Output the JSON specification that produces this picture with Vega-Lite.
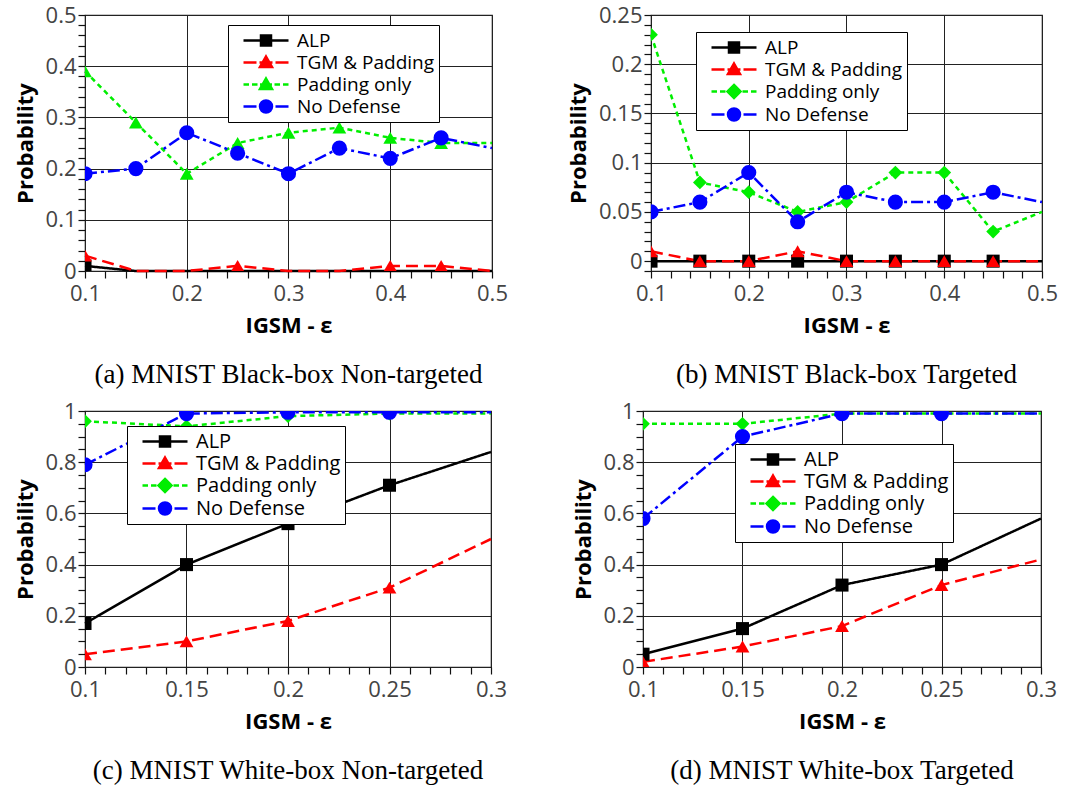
{
  "$schema": "https://vega.github.io/schema/vega-lite/v6.json",
  "padding": {"left": 13, "top": 3, "right": 0, "bottom": 0},
  "config": {
    "view": {"stroke": "#222222", "strokeWidth": 1.2},
    "axis": {"labelFont": "Open Sans", "labelFontSize": 22, "labelColor": "#444444", "titleFont": "Open Sans", "titleFontSize": 22, "titleFontWeight": "bold", "titleColor": "#000000", "domain": false, "gridColor": "#222222", "gridWidth": 1, "ticks": true, "tickColor": "#111111", "tickOpacity": 1, "tickWidth": 1.2, "tickSize": 7, "labelOverlap": false, "labelBound": false, "labelFlush": false, "labelPadding": 2},
    "axisX": {"labelPadding": 5, "titlePadding": 11}
  },
  "resolve": {"scale": {"color": "independent", "fill": "independent", "stroke": "independent", "shape": "independent", "strokeDash": "independent"}, "legend": {"color": "independent", "fill": "independent", "stroke": "independent", "shape": "independent", "strokeDash": "independent"}},
  "spacing": 10,
  "vconcat": [
    {
      "spacing": 57,
      "resolve": {"scale": {"color": "independent", "fill": "independent", "stroke": "independent", "shape": "independent", "strokeDash": "independent"}, "legend": {"color": "independent", "fill": "independent", "stroke": "independent", "shape": "independent", "strokeDash": "independent"}},
      "hconcat": [
        {
          "width": 407, "height": 256,
          "title": {"text": "(a) MNIST Black-box Non-targeted", "orient": "bottom", "font": "Liberation Serif", "fontSize": 27, "fontWeight": "normal", "color": "#000000", "offset": 26, "anchor": "middle"},
          "data": {"values": [
            {"eps": 0.1, "prob": 0.01, "series": "ALP"}, {"eps": 0.15, "prob": 0, "series": "ALP"}, {"eps": 0.2, "prob": 0, "series": "ALP"}, {"eps": 0.25, "prob": 0, "series": "ALP"}, {"eps": 0.3, "prob": 0, "series": "ALP"}, {"eps": 0.35, "prob": 0, "series": "ALP"}, {"eps": 0.4, "prob": 0, "series": "ALP"}, {"eps": 0.45, "prob": 0, "series": "ALP"}, {"eps": 0.5, "prob": 0, "series": "ALP"},
            {"eps": 0.1, "prob": 0.03, "series": "TGM & Padding"}, {"eps": 0.15, "prob": 0, "series": "TGM & Padding"}, {"eps": 0.2, "prob": 0, "series": "TGM & Padding"}, {"eps": 0.25, "prob": 0.01, "series": "TGM & Padding"}, {"eps": 0.3, "prob": 0, "series": "TGM & Padding"}, {"eps": 0.35, "prob": 0, "series": "TGM & Padding"}, {"eps": 0.4, "prob": 0.01, "series": "TGM & Padding"}, {"eps": 0.45, "prob": 0.01, "series": "TGM & Padding"}, {"eps": 0.5, "prob": 0, "series": "TGM & Padding"},
            {"eps": 0.1, "prob": 0.39, "series": "Padding only"}, {"eps": 0.15, "prob": 0.29, "series": "Padding only"}, {"eps": 0.2, "prob": 0.19, "series": "Padding only"}, {"eps": 0.25, "prob": 0.25, "series": "Padding only"}, {"eps": 0.3, "prob": 0.27, "series": "Padding only"}, {"eps": 0.35, "prob": 0.28, "series": "Padding only"}, {"eps": 0.4, "prob": 0.26, "series": "Padding only"}, {"eps": 0.45, "prob": 0.25, "series": "Padding only"}, {"eps": 0.5, "prob": 0.25, "series": "Padding only"},
            {"eps": 0.1, "prob": 0.19, "series": "No Defense"}, {"eps": 0.15, "prob": 0.2, "series": "No Defense"}, {"eps": 0.2, "prob": 0.27, "series": "No Defense"}, {"eps": 0.25, "prob": 0.23, "series": "No Defense"}, {"eps": 0.3, "prob": 0.19, "series": "No Defense"}, {"eps": 0.35, "prob": 0.24, "series": "No Defense"}, {"eps": 0.4, "prob": 0.22, "series": "No Defense"}, {"eps": 0.45, "prob": 0.26, "series": "No Defense"}, {"eps": 0.5, "prob": 0.24, "series": "No Defense"}
          ]},
          "encoding": {
            "x": {"field": "eps", "type": "quantitative", "scale": {"domain": [0.1, 0.5], "nice": false, "zero": false},
              "axis": {"title": "IGSM - ε", "format": "~g", "ticks": true, "tickSize": 7,
                "values": [0.1,0.12,0.14,0.16,0.18,0.2,0.22,0.24,0.26,0.28,0.3,0.32,0.34,0.36,0.38,0.4,0.42,0.44,0.46,0.48,0.5],
                "labelExpr": "abs(datum.value*10-round(datum.value*10))<0.001 ? datum.label : ''",
                "gridOpacity": {"condition": {"test": "abs(datum.value*10-round(datum.value*10))<0.001", "value": 1}, "value": 0}}},
            "y": {"field": "prob", "type": "quantitative", "scale": {"domain": [0, 0.5], "nice": false},
              "axis": {"title": "Probability", "titlePadding": 8, "format": "~g", "ticks": true, "tickSize": 7,
                "values": [0,0.02,0.04,0.06,0.08,0.1,0.12,0.14,0.16,0.18,0.2,0.22,0.24,0.26,0.28,0.3,0.32,0.34,0.36,0.38,0.4,0.42,0.44,0.46,0.48,0.5],
                "labelExpr": "abs(datum.value*10-round(datum.value*10))<0.001 ? datum.label : ''",
                "gridOpacity": {"condition": {"test": "abs(datum.value*10-round(datum.value*10))<0.001", "value": 1}, "value": 0}}}
          },
          "layer": [
            {"mark": {"type": "line", "strokeWidth": 2.5},
             "encoding": {
               "color": {"field": "series", "type": "nominal", "scale": {"domain": ["No Defense", "Padding only", "TGM & Padding", "ALP"], "range": ["#0000ff", "#00ee00", "#ff0000", "#000000"]}, "legend": null},
               "strokeDash": {"field": "series", "type": "nominal", "scale": {"domain": ["No Defense", "Padding only", "TGM & Padding", "ALP"], "range": [[12, 4, 3, 4], [5, 4], [12, 6], [1, 0]]}, "legend": null}}},
            {"transform": [{"filter": "datum.series=='ALP' && datum.prob>0 && datum.eps<0.49"}], "mark": {"type": "point", "shape": "square", "filled": true, "size": 170, "color": "#000000", "opacity": 1, "clip": true}},
            {"transform": [{"filter": "datum.series=='TGM & Padding' && datum.prob>0 && datum.eps<0.49"}], "mark": {"type": "point", "shape": "triangle-up", "filled": true, "size": 190, "color": "#ff0000", "opacity": 1, "clip": true}},
            {"transform": [{"filter": "datum.series=='Padding only' && datum.prob>0 && datum.eps<0.49"}], "mark": {"type": "point", "shape": "triangle-up", "filled": true, "size": 190, "color": "#00ee00", "opacity": 1, "clip": true}},
            {"transform": [{"filter": "datum.series=='No Defense' && datum.prob>0 && datum.eps<0.49"}], "mark": {"type": "point", "shape": "circle", "filled": true, "size": 230, "color": "#0000ff", "opacity": 1, "clip": true}},
            {"transform": [{"filter": "false"}], "mark": {"type": "point", "filled": true, "opacity": 1, "strokeWidth": 2.5},
             "encoding": {
               "fill": {"field": "series", "type": "nominal", "scale": {"domain": ["ALP", "TGM & Padding", "Padding only", "No Defense"], "range": ["#000000", "#ff0000", "#00ee00", "#0000ff"]},
                 "legend": {"title": null, "orient": "none", "legendX": 143, "legendY": 10, "direction": "vertical", "symbolSize": 400, "symbolStrokeWidth": 2.5, "symbolOpacity": 1, "labelFont": "Open Sans", "labelFontSize": 19, "labelColor": "#000000", "labelOffset": 42, "labelLimit": 400, "rowPadding": -1, "padding": 4, "strokeColor": "#000000", "fillColor": "#ffffff"}},
               "stroke": {"field": "series", "type": "nominal", "scale": {"domain": ["ALP", "TGM & Padding", "Padding only", "No Defense"], "range": ["#000000", "#ff0000", "#00ee00", "#0000ff"]},
                 "legend": {"title": null, "orient": "none", "legendX": 143, "legendY": 10, "direction": "vertical", "symbolSize": 400, "symbolStrokeWidth": 2.5, "symbolOpacity": 1, "labelFont": "Open Sans", "labelFontSize": 19, "labelColor": "#000000", "labelOffset": 42, "labelLimit": 400, "rowPadding": -1, "padding": 4, "strokeColor": "#000000", "fillColor": "#ffffff"}},
               "shape": {"field": "series", "type": "nominal", "scale": {"domain": ["ALP", "TGM & Padding", "Padding only", "No Defense"], "range": [
                   "M0,0H4.5M1.75,-0.5H2.75V0.5H1.75Z",
                   "M0,0H1.3M1.6,0H2.9M3.2,0H4.5M2.25,-0.6L2.85,0.45H1.65Z",
                   "M0,0H0.55M0.85,0H1.4M1.65,0H2.85M3.1,0H3.65M3.95,0H4.5M2.25,-0.6L2.85,0.45H1.65Z",
                   "M0,0H1.3M1.55,0H1.7M1.95,0H2.55M2.8,0H2.95M3.2,0H4.5M1.65,0A0.6,0.6,0,1,0,2.85,0A0.6,0.6,0,1,0,1.65,0Z"]},
                 "legend": {"title": null, "orient": "none", "legendX": 143, "legendY": 10, "direction": "vertical", "symbolSize": 400, "symbolStrokeWidth": 2.5, "symbolOpacity": 1, "labelFont": "Open Sans", "labelFontSize": 19, "labelColor": "#000000", "labelOffset": 42, "labelLimit": 400, "rowPadding": -1, "padding": 4, "strokeColor": "#000000", "fillColor": "#ffffff"}}}}
          ]
        },
        {
          "width": 391, "height": 256,
          "title": {"text": "(b) MNIST Black-box Targeted", "orient": "bottom", "font": "Liberation Serif", "fontSize": 27, "fontWeight": "normal", "color": "#000000", "offset": 26, "anchor": "middle"},
          "data": {"values": [
            {"eps": 0.1, "prob": 0, "series": "ALP"}, {"eps": 0.15, "prob": 0, "series": "ALP"}, {"eps": 0.2, "prob": 0, "series": "ALP"}, {"eps": 0.25, "prob": 0, "series": "ALP"}, {"eps": 0.3, "prob": 0, "series": "ALP"}, {"eps": 0.35, "prob": 0, "series": "ALP"}, {"eps": 0.4, "prob": 0, "series": "ALP"}, {"eps": 0.45, "prob": 0, "series": "ALP"}, {"eps": 0.5, "prob": 0, "series": "ALP"},
            {"eps": 0.1, "prob": 0.01, "series": "TGM & Padding"}, {"eps": 0.15, "prob": 0, "series": "TGM & Padding"}, {"eps": 0.2, "prob": 0, "series": "TGM & Padding"}, {"eps": 0.25, "prob": 0.01, "series": "TGM & Padding"}, {"eps": 0.3, "prob": 0, "series": "TGM & Padding"}, {"eps": 0.35, "prob": 0, "series": "TGM & Padding"}, {"eps": 0.4, "prob": 0, "series": "TGM & Padding"}, {"eps": 0.45, "prob": 0, "series": "TGM & Padding"}, {"eps": 0.5, "prob": 0, "series": "TGM & Padding"},
            {"eps": 0.1, "prob": 0.23, "series": "Padding only"}, {"eps": 0.15, "prob": 0.08, "series": "Padding only"}, {"eps": 0.2, "prob": 0.07, "series": "Padding only"}, {"eps": 0.25, "prob": 0.05, "series": "Padding only"}, {"eps": 0.3, "prob": 0.06, "series": "Padding only"}, {"eps": 0.35, "prob": 0.09, "series": "Padding only"}, {"eps": 0.4, "prob": 0.09, "series": "Padding only"}, {"eps": 0.45, "prob": 0.03, "series": "Padding only"}, {"eps": 0.5, "prob": 0.05, "series": "Padding only"},
            {"eps": 0.1, "prob": 0.05, "series": "No Defense"}, {"eps": 0.15, "prob": 0.06, "series": "No Defense"}, {"eps": 0.2, "prob": 0.09, "series": "No Defense"}, {"eps": 0.25, "prob": 0.04, "series": "No Defense"}, {"eps": 0.3, "prob": 0.07, "series": "No Defense"}, {"eps": 0.35, "prob": 0.06, "series": "No Defense"}, {"eps": 0.4, "prob": 0.06, "series": "No Defense"}, {"eps": 0.45, "prob": 0.07, "series": "No Defense"}, {"eps": 0.5, "prob": 0.06, "series": "No Defense"}
          ]},
          "encoding": {
            "x": {"field": "eps", "type": "quantitative", "scale": {"domain": [0.1, 0.5], "nice": false, "zero": false},
              "axis": {"title": "IGSM - ε", "format": "~g", "ticks": true, "tickSize": 7,
                "values": [0.1,0.12,0.14,0.16,0.18,0.2,0.22,0.24,0.26,0.28,0.3,0.32,0.34,0.36,0.38,0.4,0.42,0.44,0.46,0.48,0.5],
                "labelExpr": "abs(datum.value*10-round(datum.value*10))<0.001 ? datum.label : ''",
                "gridOpacity": {"condition": {"test": "abs(datum.value*10-round(datum.value*10))<0.001", "value": 1}, "value": 0}}},
            "y": {"field": "prob", "type": "quantitative", "scale": {"domain": [-0.01, 0.25], "nice": false, "zero": false},
              "axis": {"title": "Probability", "titlePadding": 8, "format": "~g", "ticks": true, "tickSize": 7,
                "values": [-0.01,0,0.01,0.02,0.03,0.04,0.05,0.06,0.07,0.08,0.09,0.1,0.11,0.12,0.13,0.14,0.15,0.16,0.17,0.18,0.19,0.2,0.21,0.22,0.23,0.24,0.25],
                "labelExpr": "abs(datum.value*20-round(datum.value*20))<0.001 ? datum.label : ''",
                "gridOpacity": {"condition": {"test": "abs(datum.value*20-round(datum.value*20))<0.001", "value": 1}, "value": 0}}}
          },
          "layer": [
            {"mark": {"type": "line", "strokeWidth": 2.5},
             "encoding": {
               "color": {"field": "series", "type": "nominal", "scale": {"domain": ["No Defense", "Padding only", "TGM & Padding", "ALP"], "range": ["#0000ff", "#00ee00", "#ff0000", "#000000"]}, "legend": null},
               "strokeDash": {"field": "series", "type": "nominal", "scale": {"domain": ["No Defense", "Padding only", "TGM & Padding", "ALP"], "range": [[12, 4, 3, 4], [5, 4], [12, 6], [1, 0]]}, "legend": null}}},
            {"transform": [{"filter": "datum.series=='ALP' && datum.eps<0.49"}], "mark": {"type": "point", "shape": "square", "filled": true, "size": 170, "color": "#000000", "opacity": 1, "clip": true}},
            {"transform": [{"filter": "datum.series=='TGM & Padding' && datum.eps<0.49"}], "mark": {"type": "point", "shape": "triangle-up", "filled": true, "size": 190, "color": "#ff0000", "opacity": 1, "clip": true}},
            {"transform": [{"filter": "datum.series=='Padding only' && datum.eps<0.49"}], "mark": {"type": "point", "shape": "diamond", "filled": true, "size": 190, "color": "#00ee00", "opacity": 1, "clip": true}},
            {"transform": [{"filter": "datum.series=='No Defense' && datum.eps<0.49"}], "mark": {"type": "point", "shape": "circle", "filled": true, "size": 230, "color": "#0000ff", "opacity": 1, "clip": true}},
            {"transform": [{"filter": "false"}], "mark": {"type": "point", "filled": true, "opacity": 1, "strokeWidth": 2.5},
             "encoding": {
               "fill": {"field": "series", "type": "nominal", "scale": {"domain": ["ALP", "TGM & Padding", "Padding only", "No Defense"], "range": ["#000000", "#ff0000", "#00ee00", "#0000ff"]},
                 "legend": {"title": null, "orient": "none", "legendX": 45, "legendY": 17, "direction": "vertical", "symbolSize": 400, "symbolStrokeWidth": 2.5, "symbolOpacity": 1, "labelFont": "Open Sans", "labelFontSize": 19, "labelColor": "#000000", "labelOffset": 42, "labelLimit": 400, "rowPadding": -1, "padding": 4, "strokeColor": "#000000", "fillColor": "#ffffff"}},
               "stroke": {"field": "series", "type": "nominal", "scale": {"domain": ["ALP", "TGM & Padding", "Padding only", "No Defense"], "range": ["#000000", "#ff0000", "#00ee00", "#0000ff"]},
                 "legend": {"title": null, "orient": "none", "legendX": 45, "legendY": 17, "direction": "vertical", "symbolSize": 400, "symbolStrokeWidth": 2.5, "symbolOpacity": 1, "labelFont": "Open Sans", "labelFontSize": 19, "labelColor": "#000000", "labelOffset": 42, "labelLimit": 400, "rowPadding": -1, "padding": 4, "strokeColor": "#000000", "fillColor": "#ffffff"}},
               "shape": {"field": "series", "type": "nominal", "scale": {"domain": ["ALP", "TGM & Padding", "Padding only", "No Defense"], "range": [
                   "M0,0H4.5M1.75,-0.5H2.75V0.5H1.75Z",
                   "M0,0H1.3M1.6,0H2.9M3.2,0H4.5M2.25,-0.6L2.85,0.45H1.65Z",
                   "M0,0H0.55M0.85,0H1.4M1.65,0H2.85M3.1,0H3.65M3.95,0H4.5M2.25,-0.65L2.9,0L2.25,0.65L1.6,0Z",
                   "M0,0H1.3M1.55,0H1.7M1.95,0H2.55M2.8,0H2.95M3.2,0H4.5M1.65,0A0.6,0.6,0,1,0,2.85,0A0.6,0.6,0,1,0,1.65,0Z"]},
                 "legend": {"title": null, "orient": "none", "legendX": 45, "legendY": 17, "direction": "vertical", "symbolSize": 400, "symbolStrokeWidth": 2.5, "symbolOpacity": 1, "labelFont": "Open Sans", "labelFontSize": 19, "labelColor": "#000000", "labelOffset": 42, "labelLimit": 400, "rowPadding": -1, "padding": 4, "strokeColor": "#000000", "fillColor": "#ffffff"}}}}
          ]
        }
      ]
    },
    {
      "spacing": 63,
      "resolve": {"scale": {"color": "independent", "fill": "independent", "stroke": "independent", "shape": "independent", "strokeDash": "independent"}, "legend": {"color": "independent", "fill": "independent", "stroke": "independent", "shape": "independent", "strokeDash": "independent"}},
      "hconcat": [
        {
          "width": 406, "height": 256,
          "title": {"text": "(c) MNIST White-box Non-targeted", "orient": "bottom", "font": "Liberation Serif", "fontSize": 27, "fontWeight": "normal", "color": "#000000", "offset": 26, "anchor": "middle"},
          "data": {"values": [
            {"eps": 0.1, "prob": 0.17, "series": "ALP"}, {"eps": 0.15, "prob": 0.4, "series": "ALP"}, {"eps": 0.2, "prob": 0.56, "series": "ALP"}, {"eps": 0.25, "prob": 0.71, "series": "ALP"}, {"eps": 0.3, "prob": 0.84, "series": "ALP"},
            {"eps": 0.1, "prob": 0.05, "series": "TGM & Padding"}, {"eps": 0.15, "prob": 0.1, "series": "TGM & Padding"}, {"eps": 0.2, "prob": 0.18, "series": "TGM & Padding"}, {"eps": 0.25, "prob": 0.31, "series": "TGM & Padding"}, {"eps": 0.3, "prob": 0.5, "series": "TGM & Padding"},
            {"eps": 0.1, "prob": 0.96, "series": "Padding only"}, {"eps": 0.15, "prob": 0.94, "series": "Padding only"}, {"eps": 0.2, "prob": 0.98, "series": "Padding only"}, {"eps": 0.25, "prob": 0.99, "series": "Padding only"}, {"eps": 0.3, "prob": 0.99, "series": "Padding only"},
            {"eps": 0.1, "prob": 0.79, "series": "No Defense"}, {"eps": 0.15, "prob": 0.99, "series": "No Defense"}, {"eps": 0.2, "prob": 0.995, "series": "No Defense"}, {"eps": 0.25, "prob": 0.995, "series": "No Defense"}, {"eps": 0.3, "prob": 0.995, "series": "No Defense"}
          ]},
          "encoding": {
            "x": {"field": "eps", "type": "quantitative", "scale": {"domain": [0.1, 0.3], "nice": false, "zero": false},
              "axis": {"title": "IGSM - ε", "format": "~g", "ticks": true, "tickSize": 7,
                "values": [0.1,0.11,0.12,0.13,0.14,0.15,0.16,0.17,0.18,0.19,0.2,0.21,0.22,0.23,0.24,0.25,0.26,0.27,0.28,0.29,0.3],
                "labelExpr": "abs(datum.value*20-round(datum.value*20))<0.001 ? datum.label : ''",
                "gridOpacity": {"condition": {"test": "abs(datum.value*20-round(datum.value*20))<0.001", "value": 1}, "value": 0}}},
            "y": {"field": "prob", "type": "quantitative", "scale": {"domain": [0, 1], "nice": false},
              "axis": {"title": "Probability", "titlePadding": 8, "format": "~g", "ticks": true, "tickSize": 7,
                "values": [0,0.05,0.1,0.15,0.2,0.25,0.3,0.35,0.4,0.45,0.5,0.55,0.6,0.65,0.7,0.75,0.8,0.85,0.9,0.95,1],
                "labelExpr": "abs(datum.value*5-round(datum.value*5))<0.001 ? datum.label : ''",
                "gridOpacity": {"condition": {"test": "abs(datum.value*5-round(datum.value*5))<0.001", "value": 1}, "value": 0}}}
          },
          "layer": [
            {"mark": {"type": "line", "strokeWidth": 2.5},
             "encoding": {
               "color": {"field": "series", "type": "nominal", "scale": {"domain": ["No Defense", "Padding only", "TGM & Padding", "ALP"], "range": ["#0000ff", "#00ee00", "#ff0000", "#000000"]}, "legend": null},
               "strokeDash": {"field": "series", "type": "nominal", "scale": {"domain": ["No Defense", "Padding only", "TGM & Padding", "ALP"], "range": [[12, 4, 3, 4], [5, 4], [12, 6], [1, 0]]}, "legend": null}}},
            {"transform": [{"filter": "datum.series=='ALP' && datum.eps<0.29"}], "mark": {"type": "point", "shape": "square", "filled": true, "size": 170, "color": "#000000", "opacity": 1, "clip": true}},
            {"transform": [{"filter": "datum.series=='TGM & Padding' && datum.eps<0.29"}], "mark": {"type": "point", "shape": "triangle-up", "filled": true, "size": 190, "color": "#ff0000", "opacity": 1, "clip": true}},
            {"transform": [{"filter": "datum.series=='Padding only' && datum.eps<0.29"}], "mark": {"type": "point", "shape": "diamond", "filled": true, "size": 190, "color": "#00ee00", "opacity": 1, "clip": true}},
            {"transform": [{"filter": "datum.series=='No Defense' && datum.eps<0.29"}], "mark": {"type": "point", "shape": "circle", "filled": true, "size": 230, "color": "#0000ff", "opacity": 1, "clip": true}},
            {"transform": [{"filter": "false"}], "mark": {"type": "point", "filled": true, "opacity": 1, "strokeWidth": 2.5},
             "encoding": {
               "fill": {"field": "series", "type": "nominal", "scale": {"domain": ["ALP", "TGM & Padding", "Padding only", "No Defense"], "range": ["#000000", "#ff0000", "#00ee00", "#0000ff"]},
                 "legend": {"title": null, "orient": "none", "legendX": 42, "legendY": 15, "direction": "vertical", "symbolSize": 400, "symbolStrokeWidth": 2.5, "symbolOpacity": 1, "labelFont": "Open Sans", "labelFontSize": 20, "labelColor": "#000000", "labelOffset": 42, "labelLimit": 400, "rowPadding": -1, "padding": 4, "strokeColor": "#000000", "fillColor": "#ffffff"}},
               "stroke": {"field": "series", "type": "nominal", "scale": {"domain": ["ALP", "TGM & Padding", "Padding only", "No Defense"], "range": ["#000000", "#ff0000", "#00ee00", "#0000ff"]},
                 "legend": {"title": null, "orient": "none", "legendX": 42, "legendY": 15, "direction": "vertical", "symbolSize": 400, "symbolStrokeWidth": 2.5, "symbolOpacity": 1, "labelFont": "Open Sans", "labelFontSize": 20, "labelColor": "#000000", "labelOffset": 42, "labelLimit": 400, "rowPadding": -1, "padding": 4, "strokeColor": "#000000", "fillColor": "#ffffff"}},
               "shape": {"field": "series", "type": "nominal", "scale": {"domain": ["ALP", "TGM & Padding", "Padding only", "No Defense"], "range": [
                   "M0,0H4.5M1.75,-0.5H2.75V0.5H1.75Z",
                   "M0,0H1.3M1.6,0H2.9M3.2,0H4.5M2.25,-0.6L2.85,0.45H1.65Z",
                   "M0,0H0.55M0.85,0H1.4M1.65,0H2.85M3.1,0H3.65M3.95,0H4.5M2.25,-0.65L2.9,0L2.25,0.65L1.6,0Z",
                   "M0,0H1.3M1.55,0H1.7M1.95,0H2.55M2.8,0H2.95M3.2,0H4.5M1.65,0A0.6,0.6,0,1,0,2.85,0A0.6,0.6,0,1,0,1.65,0Z"]},
                 "legend": {"title": null, "orient": "none", "legendX": 42, "legendY": 15, "direction": "vertical", "symbolSize": 400, "symbolStrokeWidth": 2.5, "symbolOpacity": 1, "labelFont": "Open Sans", "labelFontSize": 20, "labelColor": "#000000", "labelOffset": 42, "labelLimit": 400, "rowPadding": -1, "padding": 4, "strokeColor": "#000000", "fillColor": "#ffffff"}}}}
          ]
        },
        {
          "width": 398, "height": 256,
          "title": {"text": "(d) MNIST White-box Targeted", "orient": "bottom", "font": "Liberation Serif", "fontSize": 27, "fontWeight": "normal", "color": "#000000", "offset": 26, "anchor": "middle"},
          "data": {"values": [
            {"eps": 0.1, "prob": 0.05, "series": "ALP"}, {"eps": 0.15, "prob": 0.15, "series": "ALP"}, {"eps": 0.2, "prob": 0.32, "series": "ALP"}, {"eps": 0.25, "prob": 0.4, "series": "ALP"}, {"eps": 0.3, "prob": 0.58, "series": "ALP"},
            {"eps": 0.1, "prob": 0.02, "series": "TGM & Padding"}, {"eps": 0.15, "prob": 0.08, "series": "TGM & Padding"}, {"eps": 0.2, "prob": 0.16, "series": "TGM & Padding"}, {"eps": 0.25, "prob": 0.32, "series": "TGM & Padding"}, {"eps": 0.3, "prob": 0.42, "series": "TGM & Padding"},
            {"eps": 0.1, "prob": 0.95, "series": "Padding only"}, {"eps": 0.15, "prob": 0.95, "series": "Padding only"}, {"eps": 0.2, "prob": 0.99, "series": "Padding only"}, {"eps": 0.25, "prob": 0.99, "series": "Padding only"}, {"eps": 0.3, "prob": 0.99, "series": "Padding only"},
            {"eps": 0.1, "prob": 0.58, "series": "No Defense"}, {"eps": 0.15, "prob": 0.9, "series": "No Defense"}, {"eps": 0.2, "prob": 0.99, "series": "No Defense"}, {"eps": 0.25, "prob": 0.99, "series": "No Defense"}, {"eps": 0.3, "prob": 0.99, "series": "No Defense"}
          ]},
          "encoding": {
            "x": {"field": "eps", "type": "quantitative", "scale": {"domain": [0.1, 0.3], "nice": false, "zero": false},
              "axis": {"title": "IGSM - ε", "format": "~g", "ticks": true, "tickSize": 7,
                "values": [0.1,0.11,0.12,0.13,0.14,0.15,0.16,0.17,0.18,0.19,0.2,0.21,0.22,0.23,0.24,0.25,0.26,0.27,0.28,0.29,0.3],
                "labelExpr": "abs(datum.value*20-round(datum.value*20))<0.001 ? datum.label : ''",
                "gridOpacity": {"condition": {"test": "abs(datum.value*20-round(datum.value*20))<0.001", "value": 1}, "value": 0}}},
            "y": {"field": "prob", "type": "quantitative", "scale": {"domain": [0, 1], "nice": false},
              "axis": {"title": "Probability", "titlePadding": 8, "format": "~g", "ticks": true, "tickSize": 7,
                "values": [0,0.05,0.1,0.15,0.2,0.25,0.3,0.35,0.4,0.45,0.5,0.55,0.6,0.65,0.7,0.75,0.8,0.85,0.9,0.95,1],
                "labelExpr": "abs(datum.value*5-round(datum.value*5))<0.001 ? datum.label : ''",
                "gridOpacity": {"condition": {"test": "abs(datum.value*5-round(datum.value*5))<0.001", "value": 1}, "value": 0}}}
          },
          "layer": [
            {"mark": {"type": "line", "strokeWidth": 2.5},
             "encoding": {
               "color": {"field": "series", "type": "nominal", "scale": {"domain": ["No Defense", "Padding only", "TGM & Padding", "ALP"], "range": ["#0000ff", "#00ee00", "#ff0000", "#000000"]}, "legend": null},
               "strokeDash": {"field": "series", "type": "nominal", "scale": {"domain": ["No Defense", "Padding only", "TGM & Padding", "ALP"], "range": [[12, 4, 3, 4], [5, 4], [12, 6], [1, 0]]}, "legend": null}}},
            {"transform": [{"filter": "datum.series=='ALP' && datum.eps<0.29"}], "mark": {"type": "point", "shape": "square", "filled": true, "size": 170, "color": "#000000", "opacity": 1, "clip": true}},
            {"transform": [{"filter": "datum.series=='TGM & Padding' && datum.eps<0.29"}], "mark": {"type": "point", "shape": "triangle-up", "filled": true, "size": 190, "color": "#ff0000", "opacity": 1, "clip": true}},
            {"transform": [{"filter": "datum.series=='Padding only' && datum.eps<0.29"}], "mark": {"type": "point", "shape": "diamond", "filled": true, "size": 190, "color": "#00ee00", "opacity": 1, "clip": true}},
            {"transform": [{"filter": "datum.series=='No Defense' && datum.eps<0.29"}], "mark": {"type": "point", "shape": "circle", "filled": true, "size": 230, "color": "#0000ff", "opacity": 1, "clip": true}},
            {"transform": [{"filter": "false"}], "mark": {"type": "point", "filled": true, "opacity": 1, "strokeWidth": 2.5},
             "encoding": {
               "fill": {"field": "series", "type": "nominal", "scale": {"domain": ["ALP", "TGM & Padding", "Padding only", "No Defense"], "range": ["#000000", "#ff0000", "#00ee00", "#0000ff"]},
                 "legend": {"title": null, "orient": "none", "legendX": 92, "legendY": 33, "direction": "vertical", "symbolSize": 400, "symbolStrokeWidth": 2.5, "symbolOpacity": 1, "labelFont": "Open Sans", "labelFontSize": 20, "labelColor": "#000000", "labelOffset": 42, "labelLimit": 400, "rowPadding": -1, "padding": 4, "strokeColor": "#000000", "fillColor": "#ffffff"}},
               "stroke": {"field": "series", "type": "nominal", "scale": {"domain": ["ALP", "TGM & Padding", "Padding only", "No Defense"], "range": ["#000000", "#ff0000", "#00ee00", "#0000ff"]},
                 "legend": {"title": null, "orient": "none", "legendX": 92, "legendY": 33, "direction": "vertical", "symbolSize": 400, "symbolStrokeWidth": 2.5, "symbolOpacity": 1, "labelFont": "Open Sans", "labelFontSize": 20, "labelColor": "#000000", "labelOffset": 42, "labelLimit": 400, "rowPadding": -1, "padding": 4, "strokeColor": "#000000", "fillColor": "#ffffff"}},
               "shape": {"field": "series", "type": "nominal", "scale": {"domain": ["ALP", "TGM & Padding", "Padding only", "No Defense"], "range": [
                   "M0,0H4.5M1.75,-0.5H2.75V0.5H1.75Z",
                   "M0,0H1.3M1.6,0H2.9M3.2,0H4.5M2.25,-0.6L2.85,0.45H1.65Z",
                   "M0,0H0.55M0.85,0H1.4M1.65,0H2.85M3.1,0H3.65M3.95,0H4.5M2.25,-0.65L2.9,0L2.25,0.65L1.6,0Z",
                   "M0,0H1.3M1.55,0H1.7M1.95,0H2.55M2.8,0H2.95M3.2,0H4.5M1.65,0A0.6,0.6,0,1,0,2.85,0A0.6,0.6,0,1,0,1.65,0Z"]},
                 "legend": {"title": null, "orient": "none", "legendX": 92, "legendY": 33, "direction": "vertical", "symbolSize": 400, "symbolStrokeWidth": 2.5, "symbolOpacity": 1, "labelFont": "Open Sans", "labelFontSize": 20, "labelColor": "#000000", "labelOffset": 42, "labelLimit": 400, "rowPadding": -1, "padding": 4, "strokeColor": "#000000", "fillColor": "#ffffff"}}}}
          ]
        }
      ]
    }
  ]
}
